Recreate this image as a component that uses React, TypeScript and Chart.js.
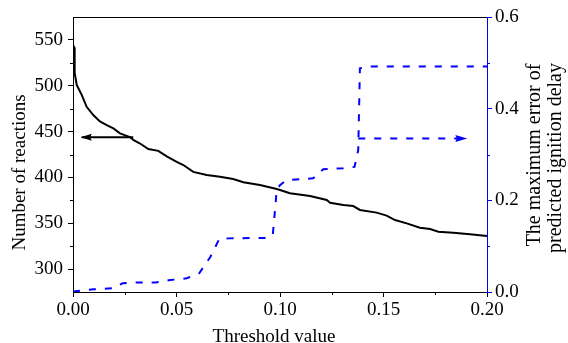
import React, { useEffect, useRef } from 'react';
import { Chart, registerables } from 'chart.js';

Chart.register(...registerables);

// Black curve: number of reactions vs threshold
const thresholdA = [0, 0.0005, 0.0008, 0.0018, 0.0042, 0.0066, 0.0098, 0.013, 0.0163, 0.0195, 0.0227, 0.0275, 0.0291, 0.0324, 0.0364, 0.0412, 0.0453, 0.0501, 0.0533, 0.0581, 0.0646, 0.071, 0.0774, 0.0823, 0.0903, 0.0984, 0.1, 0.1048, 0.1145, 0.1226, 0.1242, 0.1306, 0.1354, 0.1386, 0.1467, 0.1515, 0.1556, 0.1612, 0.1676, 0.1725, 0.1765, 0.1837, 0.1918, 0.2];
const reactions = [545, 542, 514, 501, 490, 477, 468, 461, 457, 453.5, 448, 444, 441, 437, 431, 429, 423, 417, 413.5, 406, 402.6, 400.8, 398.3, 394.7, 391.7, 387.4, 386.3, 382.7, 379.7, 375.4, 372.4, 370, 368.8, 364.5, 361.6, 358.3, 353.5, 349.9, 345.1, 343.7, 340.8, 339.7, 337.9, 336];

// Blue dashed curve: maximum error of predicted ignition delay
const thresholdB = [0, 0.01, 0.019, 0.024, 0.031, 0.04, 0.047, 0.055, 0.061, 0.0664, 0.0707, 0.075, 0.0936, 0.0965, 0.0976, 0.0984, 0.1, 0.103, 0.116, 0.1209, 0.1306, 0.136, 0.1378, 0.1386, 0.1435, 0.2];
const maxError = [0.001, 0.006, 0.008, 0.019, 0.021, 0.021, 0.026, 0.03, 0.041, 0.077, 0.116, 0.117, 0.118, 0.124, 0.179, 0.223, 0.233, 0.244, 0.248, 0.268, 0.27, 0.273, 0.31, 0.488, 0.492, 0.492];

// Annotation arrows
const arrowLeftX = [0.0291, 0.0042];
const arrowLeftY = [443.8, 443.8];
const arrowRightX = [0.1378, 0.19];
const arrowRightY = [0.335, 0.335];

// Ticks
const xTicks = [0, 0.05, 0.1, 0.15, 0.2];
const xMinorTicks = [0.025, 0.075, 0.125, 0.175];
const leftTicks = [300, 350, 400, 450, 500, 550];
const leftMinorTicks = [325, 375, 425, 475, 525];
const rightTicks = [0, 0.2, 0.4, 0.6];
const rightMinorTicks = [0.1, 0.3, 0.5];

const xTitle = 'Threshold value';
const leftTitle = 'Number of reactions';
const rightTitle = ['The maximum error of', 'predicted ignition delay'];

const FONT = 'Liberation Serif';
const BLUE = '#0000ff';

const zip = (xs: number[], ys: number[]) => xs.map((x, i) => ({ x, y: ys[i] }));

const decorPlugin = {
  id: 'decor',
  afterDatasetsDraw(chart: any) {
    const ctx = chart.ctx;
    chart.data.datasets.forEach((ds: any, i: number) => {
      if (!ds.arrowHead) return;
      const pts = chart.getDatasetMeta(i).data;
      const a = pts[pts.length - 2];
      const b = pts[pts.length - 1];
      const ang = Math.atan2(b.y - a.y, b.x - a.x);
      const L = ds.arrowHead.length;
      const W = ds.arrowHead.width;
      ctx.save();
      ctx.translate(b.x, b.y);
      ctx.rotate(ang);
      ctx.fillStyle = ds.borderColor;
      ctx.beginPath();
      ctx.moveTo(1, 0);
      ctx.lineTo(-L, -W);
      ctx.lineTo(-L * 0.85, 0);
      ctx.lineTo(-L, W);
      ctx.closePath();
      ctx.fill();
      ctx.restore();
    });
  },
  afterDraw(chart: any) {
    const ctx = chart.ctx;
    const { left, right, top, bottom } = chart.chartArea;
    const xs = chart.scales.x;
    const ys = chart.scales.y;
    const y1 = chart.scales.y1;
    ctx.save();
    // top frame line
    ctx.strokeStyle = '#000';
    ctx.lineWidth = 1;
    ctx.beginPath();
    ctx.moveTo(left, top + 0.5);
    ctx.lineTo(right, top + 0.5);
    ctx.stroke();
    // minor ticks
    ctx.beginPath();
    xMinorTicks.forEach((v) => {
      const px = Math.round(xs.getPixelForValue(v)) + 0.5;
      ctx.moveTo(px, bottom);
      ctx.lineTo(px, bottom + 3);
    });
    leftMinorTicks.forEach((v) => {
      const py = Math.round(ys.getPixelForValue(v)) + 0.5;
      ctx.moveTo(left, py);
      ctx.lineTo(left - 3, py);
    });
    ctx.stroke();
    ctx.strokeStyle = BLUE;
    ctx.beginPath();
    rightMinorTicks.forEach((v) => {
      const py = Math.round(y1.getPixelForValue(v)) + 0.5;
      ctx.moveTo(right, py);
      ctx.lineTo(right + 3, py);
    });
    ctx.stroke();
    // titles
    ctx.fillStyle = '#000';
    ctx.font = `19px "${FONT}"`;
    ctx.textAlign = 'center';
    ctx.textBaseline = 'alphabetic';
    ctx.fillText(xTitle, (left + right) / 2 - 6, 342);
    ctx.save();
    ctx.translate(25, (top + bottom) / 2 + 18);
    ctx.rotate(-Math.PI / 2);
    ctx.fillText(leftTitle, 0, 0);
    ctx.restore();
    ctx.font = `20px "${FONT}"`;
    ctx.save();
    ctx.translate(right + 53, (top + bottom) / 2 + 0.5);
    ctx.rotate(-Math.PI / 2);
    ctx.fillText(rightTitle[0], 0, 0);
    ctx.restore();
    ctx.save();
    ctx.translate(right + 73.5, (top + bottom) / 2 + 3.5);
    ctx.rotate(-Math.PI / 2);
    ctx.fillText(rightTitle[1], 0, 0);
    ctx.restore();
    ctx.restore();
  },
};

export default function App() {
  const ref = useRef<HTMLCanvasElement | null>(null);
  useEffect(() => {
    if (!ref.current) return;
    const tickFont = { family: FONT, size: 19 };
    const chart = new Chart(ref.current, {
      type: 'line',
      data: {
        datasets: [
          {
            data: zip(thresholdA, reactions),
            yAxisID: 'y',
            borderColor: '#000',
            borderWidth: 2,
            pointRadius: 0,
            tension: 0,
          },
          {
            data: zip(thresholdB, maxError),
            yAxisID: 'y1',
            borderColor: BLUE,
            borderWidth: 2,
            borderDash: [7, 9],
            pointRadius: 0,
            tension: 0,
          },
          {
            data: zip(arrowLeftX, arrowLeftY),
            yAxisID: 'y',
            borderColor: '#000',
            borderWidth: 2,
            pointRadius: 0,
            arrowHead: { length: 10, width: 3.5 },
          } as any,
          {
            data: zip(arrowRightX, arrowRightY),
            yAxisID: 'y1',
            borderColor: BLUE,
            borderWidth: 2,
            borderDash: [7, 9],
            pointRadius: 0,
            arrowHead: { length: 11, width: 3.5 },
          } as any,
        ],
      },
      options: {
        animation: false,
        responsive: false,
        maintainAspectRatio: false,
        layout: { padding: { top: 17, left: 0, right: 0, bottom: 0 } },
        plugins: { legend: { display: false }, tooltip: { enabled: false } },
        scales: {
          x: {
            type: 'linear',
            min: 0,
            max: 0.2,
            afterBuildTicks: (ax: any) => {
              ax.ticks = xTicks.map((v) => ({ value: v }));
            },
            afterFit: (s: any) => {
              s.height = 51;
            },
            ticks: {
              font: tickFont,
              color: '#000',
              padding: 2,
              maxRotation: 0,
              autoSkip: false,
              callback: (v: any) => Number(v).toFixed(2),
            },
            grid: { drawOnChartArea: false, tickLength: 5, tickColor: '#000' },
            border: { color: '#000', width: 1 },
          },
          y: {
            type: 'linear',
            position: 'left',
            min: 275,
            max: 575,
            afterBuildTicks: (ax: any) => {
              ax.ticks = leftTicks.map((v) => ({ value: v }));
            },
            afterFit: (s: any) => {
              s.width = 73;
            },
            ticks: {
              font: tickFont,
              color: '#000',
              padding: 5,
              autoSkip: false,
              callback: (v: any) => String(v),
            },
            grid: { drawOnChartArea: false, tickLength: 5, tickColor: '#000' },
            border: { color: '#000', width: 1 },
          },
          y1: {
            type: 'linear',
            position: 'right',
            min: 0,
            max: 0.6,
            afterBuildTicks: (ax: any) => {
              ax.ticks = rightTicks.map((v) => ({ value: v }));
            },
            afterFit: (s: any) => {
              s.width = 81;
            },
            ticks: {
              font: tickFont,
              color: '#000',
              padding: 3,
              autoSkip: false,
              callback: (v: any) => Number(v).toFixed(1),
            },
            grid: { drawOnChartArea: false, tickLength: 5, tickColor: BLUE },
            border: { color: BLUE, width: 1 },
          },
        },
      },
      plugins: [decorPlugin],
    } as any);
    return () => chart.destroy();
  }, []);
  return (
    <div style={{ position: 'absolute', left: 0, top: 0, width: 568, height: 343 }}>
      <canvas ref={ref} width={568} height={343} style={{ width: 568, height: 343, display: 'block' }} />
    </div>
  );
}
